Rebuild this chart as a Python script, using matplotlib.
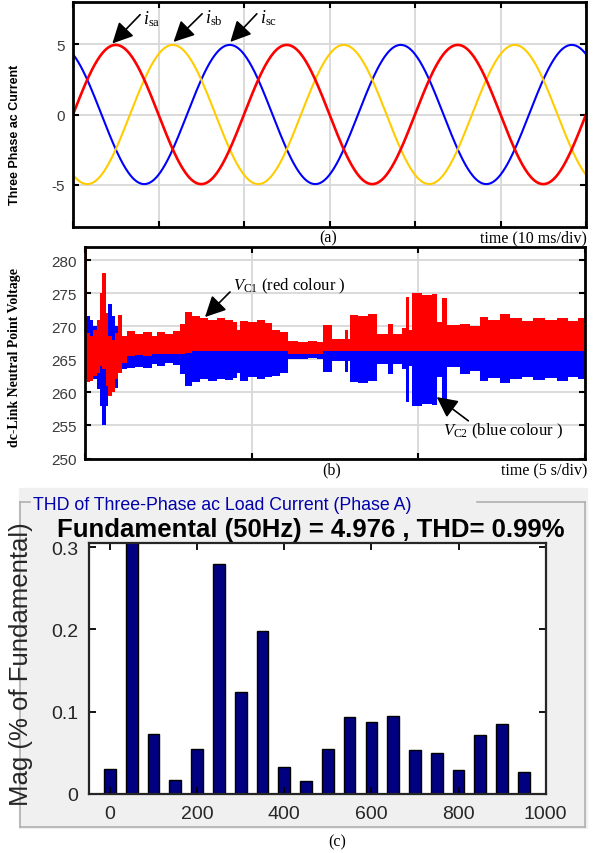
import numpy as np
import matplotlib
matplotlib.use("Agg")
import matplotlib.pyplot as plt
from matplotlib.patches import Rectangle
from matplotlib.lines import Line2D

plt.rcParams["axes.unicode_minus"] = False
plt.rcParams["mathtext.fontset"] = "custom"
plt.rcParams["mathtext.rm"] = "Liberation Serif"
plt.rcParams["mathtext.it"] = "Liberation Serif:italic"

# ---- (a) three phase ac current (sinusoid parameters)
i_amp = 4.95            # peak current
i_freq = 50.0           # Hz (20 ms period = 2 div)
i_phase = [0, -120, 120]  # deg, isa / isb / isc
i_colors = ["#ff0000", "#ffcc00", "#0000ff"]
i_names = ["sa", "sb", "sc"]
t_span_ms = 60          # 6 div x 10 ms

# ---- (b) dc-link neutral point voltage, envelopes of the two bands (t in s)
vt = [0.00, 0.05, 0.15, 0.25, 0.35, 0.45, 0.52, 0.62, 0.70, 0.80, 0.90, 1.00,
      1.10, 1.25, 1.50, 1.75, 2.00, 2.15, 2.40, 2.65, 2.85, 3.00, 3.20, 3.45,
      3.70, 3.95, 4.20, 4.45, 4.55, 4.65, 4.90, 5.15, 5.40, 5.60, 5.85, 6.10,
      6.40, 6.70, 6.95, 7.15, 7.40, 7.80, 7.90, 7.95, 8.20, 8.50, 8.75, 9.10,
      9.25, 9.50, 9.62, 9.72, 9.80, 10.10, 10.40, 10.55, 10.70, 10.85, 11.25,
      11.55, 11.85, 12.10, 12.45, 12.75, 13.10, 13.45, 13.80, 14.15, 14.50,
      14.80, 15.00]
vc1_hi = [282.0, 269.0, 268.5, 269.5, 271.0, 275.0, 278.0, 272.0, 268.5, 268.0,
          269.0, 271.7, 268.5, 269.3, 268.9, 269.2, 268.5, 269.2, 268.9, 269.3,
          270.4, 272.1, 271.5, 271.3, 271.0, 271.2, 270.9, 270.6, 269.5, 270.8,
          270.6, 270.9, 270.5, 269.4, 269.2, 267.8, 267.6, 267.8, 267.7, 270.2,
          268.1, 269.5, 268.1, 271.7, 271.5, 271.8, 268.9, 270.4, 268.9, 269.8,
          274.4, 269.5, 275.0, 274.8, 274.9, 270.7, 274.3, 270.2, 270.4, 270.0,
          271.4, 271.0, 271.9, 271.2, 270.8, 271.3, 270.9, 271.2, 270.8, 271.2,
          271.2]
vc1_lo = [262.0, 261.5, 261.8, 262.5, 263.0, 264.0, 263.5, 261.0, 259.5, 260.0,
          262.0, 263.0, 264.5, 265.5, 265.6, 265.5, 265.8, 265.8, 265.8, 265.8,
          265.8, 266.0] + [266.2] * 13 + [265.8] * 4 + [266.2] * 32
vc2_hi = [271.5, 271.5, 271.0, 270.0, 268.5, 267.5, 267.0, 270.0, 273.4, 271.5,
          270.0, 269.5, 268.5] + [267.0] * 22 + [266.8] * 4 + [267.0] * 32
vc2_lo = [262.5, 262.0, 263.0, 262.0, 260.5, 258.0, 255.0, 258.0, 262.0, 261.5,
          260.6, 263.0, 263.5, 263.7, 263.9, 263.7, 264.3, 264.0, 264.5, 264.2,
          262.8, 260.9, 261.6, 262.0, 261.8, 262.1, 261.9, 262.2, 263.0, 261.8,
          262.3, 262.1, 262.4, 262.5, 263.0, 265.1, 265.0, 265.2, 265.0, 263.1,
          264.8, 263.1, 264.8, 261.6, 261.4, 261.7, 264.3, 262.8, 264.3, 263.5,
          258.5, 264.0, 258.0, 258.2, 258.1, 262.3, 259.0, 263.8, 262.8, 263.2,
          261.8, 262.2, 261.4, 262.1, 262.4, 261.9, 262.2, 261.8, 262.3, 262.0,
          262.0]

# ---- (c) harmonic spectrum of phase A load current
harm_freq = [0, 50, 100, 150, 200, 250, 300, 350, 400, 450, 500, 550, 600, 650,
             700, 750, 800, 850, 900, 950]
harm_mag = [0.030, 0.33, 0.073, 0.017, 0.054, 0.279, 0.124, 0.198, 0.033, 0.016,
            0.054, 0.093, 0.087, 0.094, 0.053, 0.050, 0.029, 0.071, 0.085, 0.026]

W, H = 598, 854
fig = plt.figure(figsize=(W / 100, H / 100), dpi=100)

tick_gray = "#3a3a3a"
grid_gray = "#d8d8d8"
serif = ["Liberation Serif", "DejaVu Serif"]
sans = ["Liberation Sans", "DejaVu Sans"]


def style_box(ax, lw=2.0):
    for s in ax.spines.values():
        s.set_linewidth(lw)
        s.set_color("k")
    ax.grid(True, color=grid_gray, lw=1.3)
    ax.set_axisbelow(True)
    ax.tick_params(direction="in", top=True, right=True, length=4, width=1.5,
                   labelbottom=False, labelsize=11, labelcolor=tick_gray, pad=6)
    for lab in ax.get_yticklabels():
        lab.set_family(sans)


# ---------------- (a)
ax_a = fig.add_axes([73 / W, 1 - 228 / H, 513 / W, 225 / H])
t_ms = np.linspace(0, t_span_ms, 600)
order = [2, 1, 0]  # blue under yellow under red
for k in order:
    ph = np.deg2rad(i_phase[k])
    lw = 1.9 if k == 0 else 1.5
    ax_a.plot(t_ms, i_amp * np.sin(2 * np.pi * i_freq * t_ms / 1000 + ph),
              color=i_colors[k], lw=lw)
ax_a.set_xlim(0, t_span_ms)
ax_a.set_ylim(-8, 8)
ax_a.set_xticks(np.arange(0, t_span_ms + 1, 10))
ax_a.set_yticks([-5, 0, 5])
style_box(ax_a)
ax_a.set_ylabel("Three Phase ac Current", family=sans, weight="bold", fontsize=9)
ax_a.yaxis.set_label_coords(-0.101, 0.416)

arrow_kw = dict(arrowstyle="-|>,head_length=0.7,head_width=0.35", color="k",
                lw=1.2, mutation_scale=18, shrinkA=0, shrinkB=0)
a_tails = [(7.85, 7.1), (15.1, 7.16), (21.5, 7.16)]
a_heads = [(4.6, 5.05), (11.76, 5.16), (18.4, 5.16)]
for name, tail, head in zip(i_names, a_tails, a_heads):
    ax_a.annotate("", xy=head, xytext=tail, arrowprops=arrow_kw)
    ax_a.text(tail[0] + 0.35, tail[1] - 0.25, r"$i_{\mathrm{%s}}$" % name,
              fontsize=13, va="center", ha="left")

fig.text(328 / W, 1 - 238 / H, "(a)", family=serif, fontsize=11.5, ha="center", va="center")
fig.text(587 / W, 1 - 238 / H, "time (10 ms/div)", family=serif, fontsize=11.5,
         ha="right", va="center")

# ---------------- (b)
ax_b = fig.add_axes([85 / W, 1 - 459.5 / H, 500 / W, 211.5 / H])
ax_b.fill_between(vt, vc2_lo, vc2_hi, step="post", color="#0000ff", lw=0)
ax_b.fill_between(vt, vc1_lo, vc1_hi, step="post", color="#ff0000", lw=0)
ax_b.set_xlim(0, 15)
ax_b.set_ylim(250, 282)
ax_b.set_xticks([0, 5, 10, 15])
ax_b.set_yticks(np.arange(250, 281, 5))
style_box(ax_b)
ax_b.set_ylabel("dc-Link Neutral Point Voltage", family=serif, weight="bold", fontsize=10)
ax_b.yaxis.set_label_coords(-0.128, 0.482)

ax_b.annotate("", xy=(3.6, 271.4), xytext=(4.35, 275.2), arrowprops=arrow_kw)
ax_b.text(4.45, 276.2, r"$V_{\mathrm{C1}}$" + " (red colour )", family=serif,
          fontsize=12, va="center", ha="left")
ax_b.annotate("", xy=(10.55, 259.3), xytext=(11.5, 255.7), arrowprops=arrow_kw)
ax_b.text(10.75, 254.2, r"$V_{\mathrm{C2}}$" + " (blue colour )", family=serif,
          fontsize=12, va="center", ha="left")

fig.text(332 / W, 1 - 470 / H, "(b)", family=serif, fontsize=11.5, ha="center", va="center")
fig.text(587 / W, 1 - 470 / H, "time (5 s/div)", family=serif, fontsize=11.5,
         ha="right", va="center")

# ---------------- (c) panel background + frame
fig.patches.append(Rectangle((19 / W, 1 - 829 / H), 568 / W, 340 / H,
                             transform=fig.transFigure, color="#f0f0f0", zorder=-2))
frame = [((20, 20), (503, 828)), ((20, 585), (828, 828)), ((585, 585), (503, 828)),
         ((20, 30), (503, 503)), ((477, 585), (503, 503))]
for xs, ys in frame:
    fig.add_artist(Line2D([x / W for x in xs], [1 - y / H for y in ys],
                          color="#b0b0b0", lw=1.2, zorder=-1))

ax_c = fig.add_axes([89 / W, 1 - 794.7 / H, 456.7 / W, 250.7 / H])
ax_c.bar(harm_freq, harm_mag, width=27, color="#000080", edgecolor="k", lw=1)
ax_c.set_xlim(-48, 1000)
ax_c.set_ylim(0, 0.305)
ax_c.set_xticks(np.arange(0, 1001, 200))
ax_c.set_yticks([0, 0.1, 0.2, 0.3])
ax_c.set_yticklabels(["0", "0.1", "0.2", "0.3"])
for s in ax_c.spines.values():
    s.set_linewidth(1.6)
    s.set_color("#262626")
ax_c.tick_params(direction="in", top=True, right=True, length=5, width=1.3,
                 labelsize=14, labelcolor="#262626", pad=8)
for lab in ax_c.get_xticklabels() + ax_c.get_yticklabels():
    lab.set_family(sans)
ax_c.set_ylabel("Mag (% of Fundamental)", family=sans, fontsize=18.5, color="#262626")
ax_c.yaxis.set_label_coords(-0.1226, 0.521)

fig.text(33 / W, 1 - 505 / H, "THD of Three-Phase ac Load Current (Phase A)",
         family=sans, fontsize=12.8, color="#0000aa", ha="left", va="center")
fig.text(311 / W, 1 - 530 / H, "Fundamental (50Hz) = 4.976 , THD= 0.99%",
         family=sans, fontsize=18.5, weight="bold", ha="center", va="center")
fig.text(337 / W, 1 - 842 / H, "(c)", family=serif, fontsize=11.5, ha="center", va="center")

fig.savefig("out.png", dpi=100)
